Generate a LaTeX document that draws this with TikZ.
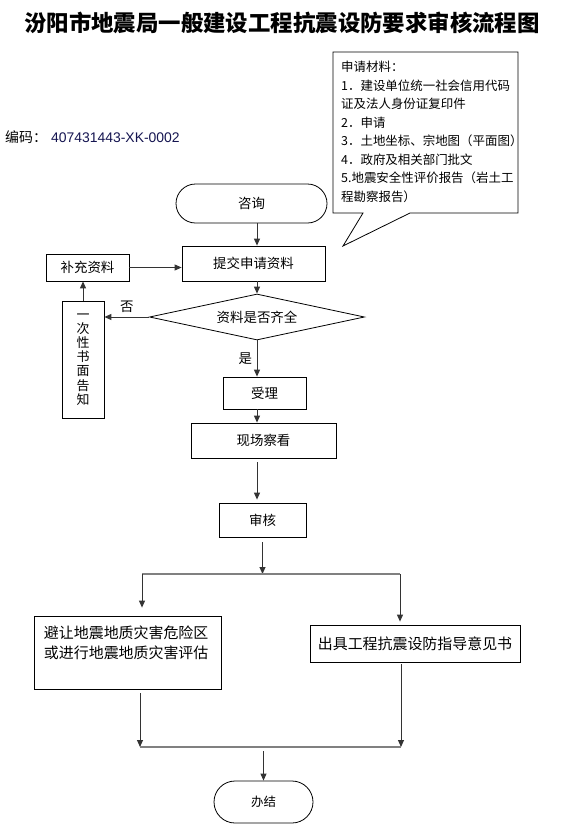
\documentclass[tikz,border=0pt]{standalone}
\usepackage{fontspec}
\setmainfont{Noto Sans CJK SC}
\newfontfamily\latinfont{Liberation Sans}
\usetikzlibrary{arrows.meta,shapes.geometric,shapes.misc,positioning}

\definecolor{codeblue}{RGB}{20,20,80}
\definecolor{linegray}{RGB}{128,128,128}

\tikzset{
  boxsize/.style 2 args={minimum width=#1bp, minimum height=#2bp},
  flowbox/.style={draw, line width=0.8bp, inner sep=0pt, font=\fontsize{13.5}{16}\selectfont},
  terminal/.style={flowbox, rounded rectangle},
  decision/.style={flowbox, diamond, aspect=4.67, minimum width=215bp, minimum height=46bp},
  flow/.style={-{Triangle[length=7bp,width=6bp]}, line width=1bp, black!80},
  branch/.style={line width=1.6bp, linegray},
}

\begin{document}
\begin{tikzpicture}[x=1bp,y=-1bp]
  \useasboundingbox (0,0) rectangle (563,834);

  % title and document code
  \node[font=\fontsize{22.5}{26}\selectfont\bfseries] (title) at (282,23) {汾阳市地震局一般建设工程抗震设防要求审核流程图};
  \node[anchor=west, inner sep=0pt, font=\fontsize{14}{16}\selectfont] (code) at (5,137) {编码：\hspace{4bp}{\latinfont\color{codeblue}407431443-XK-0002}};

  % callout with the list of materials
  \draw[line width=0.8bp, fill=white] (333,52) -- (518,52) -- (518,213) -- (410,213) -- (343,246) -- (363,213) -- (333,213) -- cycle;
  \node[anchor=north west, inner sep=0pt, align=left, font=\fontsize{12.5}{18.6}\selectfont] (materials) at (341,61)
    {申请材料：\\1．建设单位统一社会信用代码\\证及法人身份证复印件\\2．申请\\3．土地坐标、宗地图（平面图）\\4．政府及相关部门批文\\5.地震安全性评价报告（岩土工\\程勘察报告）};

  % main column
  \node[terminal, boxsize={151}{39}] (zixun) at (251.5,203.5) {咨询};
  \node[flowbox, boxsize={143}{35}] (tijiao) at (253.5,263.5) {提交申请资料};
  \node[flowbox, boxsize={83}{27}] (buchong) at (87.5,267.5) {补充资料};
  \node[decision] (qiquan) at (257,317) {资料是否齐全};
  \node[flowbox, boxsize={42}{117}, align=center, font=\fontsize{13}{14.2}\selectfont] (gaozhi) at (83,359.5) {一\\次\\性\\书\\面\\告\\知};
  \node[flowbox, boxsize={83}{32}] (shouli) at (264.5,393) {受理};
  \node[flowbox, boxsize={145}{35}] (kancha) at (263.5,440.5) {现场察看};
  \node[flowbox, boxsize={87}{34}] (shenhe) at (262.5,520) {审核};

  % two outcomes and the end
  \node[flowbox, boxsize={187}{73}, text width=167bp, align=left, font=\fontsize{15}{20}\selectfont] (bizhang) at (127.5,652.5)
    {避让地震地质灾害危险区\\或进行地震地质灾害评估\\\mbox{}};
  \node[flowbox, boxsize={210}{37}, font=\fontsize{15}{18}\selectfont] (chuju) at (415,643.5) {出具工程抗震设防指导意见书};
  \node[terminal, boxsize={99}{42}, font=\fontsize{12.5}{15}\selectfont] (banjie) at (263.5,802) {办结};

  \coordinate (splitL) at (142,574);
  \coordinate (splitR) at (400,574);
  \coordinate (mergeL) at (140,747);
  \coordinate (mergeR) at (401,747);

  % connectors
  \draw[flow] (zixun.south -| qiquan) -- (tijiao.north -| qiquan);
  \draw[flow] (tijiao.south -| qiquan) -- (qiquan.north);
  \draw[flow] (buchong.east) -- (tijiao.west |- buchong.east);
  \draw[flow] (qiquan.west) -- (gaozhi.east |- qiquan.west) node[midway, above=1bp, black, font=\fontsize{13.5}{16}\selectfont] {否};
  \draw[flow] (gaozhi.north) -- (buchong.south -| gaozhi.north);
  \draw[flow] (qiquan.south) -- (shouli.north -| qiquan) node[midway, left=1bp, black, font=\fontsize{13.5}{16}\selectfont] {是};
  \draw[flow] (shouli.south -| qiquan) -- (kancha.north -| qiquan);
  \draw[flow, shorten <=4bp, shorten >=3bp] (kancha.south -| qiquan) -- (shenhe.north -| qiquan);
  \draw[flow, shorten <=5bp] (shenhe.south) -- (shenhe.south |- splitL);
  \draw[branch] (splitL) -- (splitR);
  \draw[flow, shorten >=8bp] (splitL) -- (splitL |- bizhang.north);
  \draw[flow, shorten >=3bp] (splitR) -- (splitR |- chuju.north);
  \draw[flow, shorten <=4bp] (bizhang.south -| mergeL) -- (mergeL);
  \draw[flow, shorten <=2bp] (chuju.south -| mergeR) -- (mergeR);
  \draw[branch] (mergeL) -- (mergeR);
  \draw[flow, shorten <=4bp] (banjie.north |- mergeL) -- (banjie.north);
\end{tikzpicture}
\end{document}
